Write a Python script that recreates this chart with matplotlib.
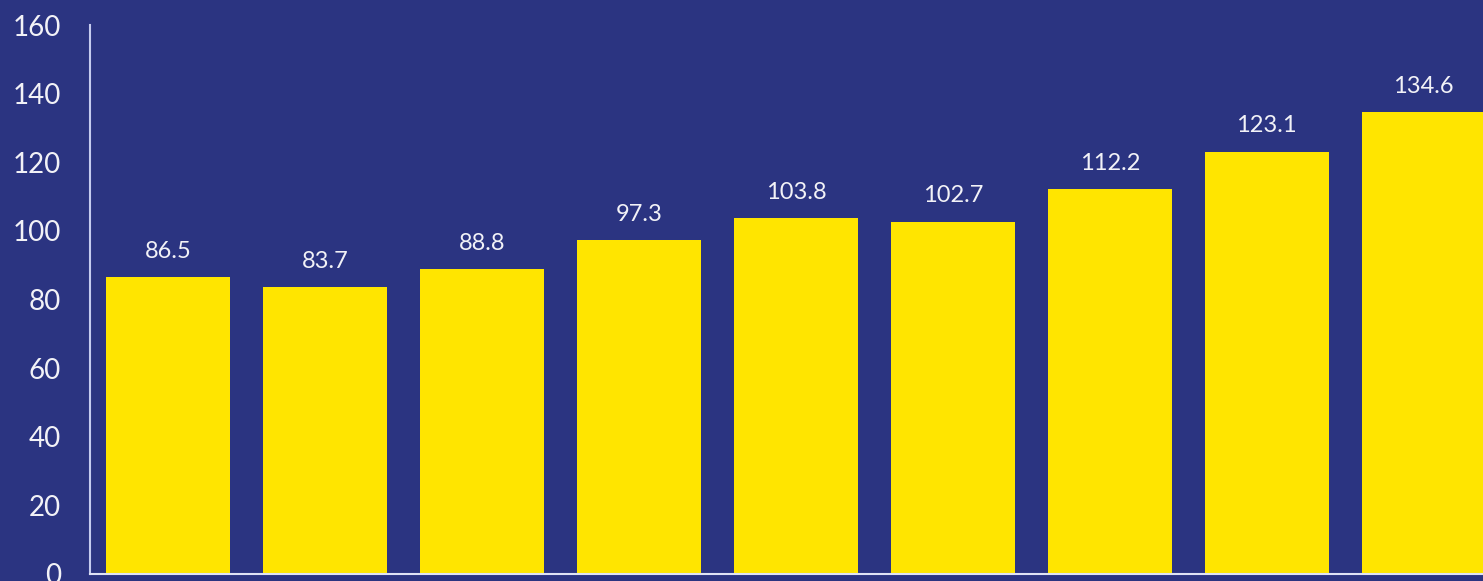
import numpy as np
import matplotlib.pyplot as plt

# index values per period
values = [86.5, 83.7, 88.8, 97.3, 103.8, 102.7, 112.2, 123.1, 134.6]
y_ticks = [0, 20, 40, 60, 80, 100, 120, 140, 160]

bg = "#2b3481"
bar_color = "#ffe500"
text_color = "#f2f2f7"

plt.rcParams['font.family'] = ['Lato', 'DejaVu Sans']

W, H = 1483, 581
fig = plt.figure(figsize=(W / 100, H / 100), dpi=100, facecolor=bg)
ax = fig.add_axes([90 / W, 7 / H, 1412 / W, 549 / H], facecolor=bg)

x = np.arange(len(values))
bars = ax.bar(x, values, width=0.79, color=bar_color, zorder=2)

for xi, v in zip(x, values):
    ax.annotate(f"{v:.1f}", (xi, v), xytext=(0, 11), textcoords="offset points",
                ha="center", va="bottom", color=text_color, fontsize=17)

ax.set_xlim(-0.5, len(values) - 0.5)
ax.set_ylim(0, 160)
ax.set_yticks(y_ticks)
ax.set_xticks([])
ax.tick_params(axis="y", length=0, pad=21, labelsize=20, labelcolor=text_color)

for side in ("top", "right"):
    ax.spines[side].set_visible(False)
ax.spines["left"].set_color("#c5cbef")
ax.spines["bottom"].set_color("#dfe2f5")
ax.spines["left"].set_linewidth(1.5)
ax.spines["bottom"].set_linewidth(1.5)

fig.savefig("out.png", dpi=100, facecolor=bg)
